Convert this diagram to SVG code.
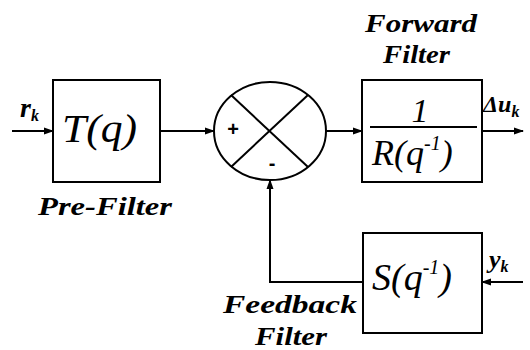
<svg xmlns="http://www.w3.org/2000/svg" width="530" height="350" viewBox="0 0 530 350">
<style>
.box{fill:#fff;stroke:#000;stroke-width:2}
.ln{fill:none;stroke:#000;stroke-width:2}
.lbl{font-family:'Liberation Serif','DejaVu Serif',serif;font-style:italic;font-weight:bold;fill:#000}
.fn{font-family:'Liberation Serif','DejaVu Serif',serif;font-style:italic;fill:#000}
.sig{font-family:'Liberation Serif','DejaVu Serif',serif;font-style:italic;font-weight:bold;fill:#000}
.pm{font-family:'Liberation Sans',Arial,sans-serif;font-weight:bold;font-size:20px;text-anchor:middle}
</style>
<defs>
<marker id="ah" markerWidth="10" markerHeight="8" refX="9" refY="4" orient="auto" markerUnits="userSpaceOnUse">
<path d="M0,0.5 L10,4 L0,7.5 Z" fill="#000"/>
</marker>
</defs>
<rect width="530" height="350" fill="#fff"/>
<g id="connectors">
<line class="ln" x1="12" y1="131" x2="53" y2="131" marker-end="url(#ah)"/>
<line class="ln" x1="160" y1="131" x2="214" y2="131" marker-end="url(#ah)"/>
<line class="ln" x1="326" y1="131" x2="362" y2="131" marker-end="url(#ah)"/>
<line class="ln" x1="482" y1="131" x2="523" y2="131" marker-end="url(#ah)"/>
<line class="ln" x1="523" y1="282" x2="482" y2="282" marker-end="url(#ah)"/>
<polyline class="ln" points="363,282 270,282 270,180" marker-end="url(#ah)"/>
</g>
<g id="prefilter">
<rect class="box" x="53" y="80" width="107" height="102"/>
<text class="fn" x="62" y="142" font-size="40" textLength="75" lengthAdjust="spacingAndGlyphs">T(q)</text>
<text class="lbl" x="38" y="215" font-size="26" textLength="134" lengthAdjust="spacingAndGlyphs">Pre-Filter</text>
</g>
<g id="sum">
<ellipse class="ln" cx="270" cy="131" rx="56" ry="49"/>
<line class="ln" x1="231" y1="95" x2="308" y2="167"/>
<line class="ln" x1="308" y1="95" x2="231" y2="167"/>
<text class="pm" x="233" y="136">+</text>
<text class="pm" x="272" y="170">-</text>
</g>
<g id="forward">
<rect class="box" x="362" y="80" width="120" height="102"/>
<text class="fn" x="420" y="122" font-size="34" text-anchor="middle">1</text>
<line x1="370" y1="127" x2="477" y2="127" stroke="#000" stroke-width="2"/>
<text class="fn" x="372" y="165" font-size="36">R(q<tspan font-size="20" dy="-15">-1</tspan><tspan dy="15">)</tspan></text>
<text class="lbl" x="365" y="32" font-size="26" textLength="112" lengthAdjust="spacingAndGlyphs">Forward</text>
<text class="lbl" x="383" y="63" font-size="26" textLength="67" lengthAdjust="spacingAndGlyphs">Filter</text>
</g>
<g id="feedback">
<rect class="box" x="363" y="233" width="119" height="100"/>
<text class="fn" x="372" y="290" font-size="38">S(q<tspan font-size="20" dy="-16">-1</tspan><tspan dy="16">)</tspan></text>
<text class="lbl" x="223" y="313" font-size="26" textLength="134" lengthAdjust="spacingAndGlyphs">Feedback</text>
<text class="lbl" x="255" y="345" font-size="26" textLength="72" lengthAdjust="spacingAndGlyphs">Filter</text>
</g>
<g id="signals">
<text class="sig" x="20" y="117" font-size="28">r<tspan font-size="16" dy="4">k</tspan></text>
<text class="sig" x="483" y="112" font-size="24">Δu<tspan font-size="16" dy="5">k</tspan></text>
<text class="sig" x="489" y="268" font-size="26">y<tspan font-size="16" dy="4">k</tspan></text>
</g>
</svg>
